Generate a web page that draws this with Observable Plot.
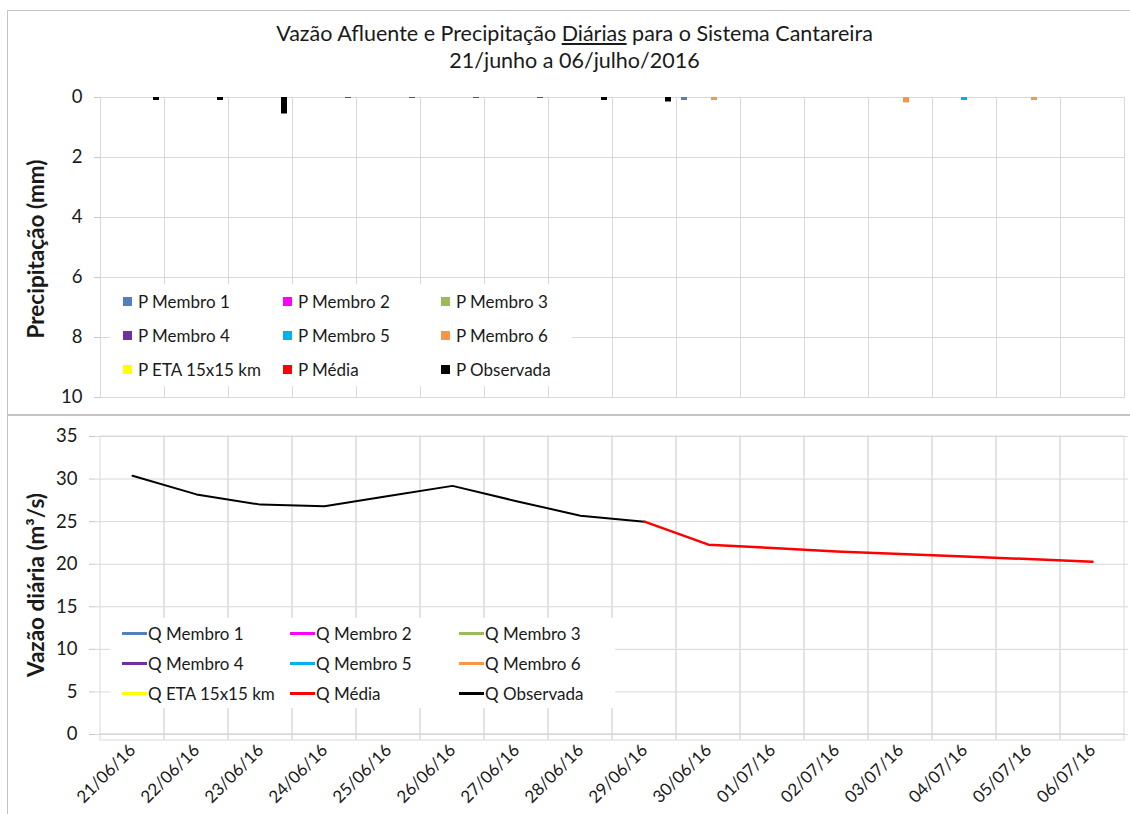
<!DOCTYPE html>
<html>
<head>
<meta charset="utf-8">
<script src="https://cdn.jsdelivr.net/npm/d3@7"></script>
<script src="https://cdn.jsdelivr.net/npm/@observablehq/plot@0.6"></script>
<style>
  body { margin: 0; background: #fff; }
  #chart { position: relative; width: 1130px; height: 814px; overflow: hidden; background: #fff;
           font-family: Lato, "Open Sans", sans-serif; color: #1a1a1a; }
  .abs { position: absolute; }
  .frameBorder { left: 7px; top: 10px; width: 1200px; height: 900px; border: 1px solid #c4c4c4; box-sizing: border-box; }
  .divider { left: 7px; top: 414px; width: 1130px; height: 2px; background: #c4c4c4; }
  .title { left: 0; top: 20px; width: 1149px; text-align: center; font-size: 21.5px; line-height: 27px; }
  .ytitle { font-weight: bold; font-size: 22.5px; white-space: nowrap; transform: translate(-50%, -50%) rotate(-90deg); }
  .legend { background: #fff; display: grid; font-size: 17px; align-items: center; }
  .item { display: flex; align-items: center; white-space: nowrap; }
  .sq { width: 9px; height: 9px; margin-right: 6px; flex: none; }
  .ln { width: 25px; height: 3px; margin-right: 1px; flex: none; }
  svg { position: absolute; left: 0; }
</style>
</head>
<body>
<div id="chart">
  <div class="abs frameBorder"></div>
  <div class="abs divider"></div>
</div>
<script>
// ---- Data ----
const dates = ["21/06/16","22/06/16","23/06/16","24/06/16","25/06/16","26/06/16","27/06/16","28/06/16",
               "29/06/16","30/06/16","01/07/16","02/07/16","03/07/16","04/07/16","05/07/16","06/07/16"];
const series = ["Membro 1","Membro 2","Membro 3","Membro 4","Membro 5","Membro 6","ETA 15x15 km","Média","Observada"];
const seriesColors = ["#4f81bd","#ff00ff","#9bbb59","#7030a0","#00b0f0","#f79646","#ffff00","#ff0000","#000000"];

// Observed daily precipitation (mm), 21/06 .. 29/06
const obsDates = dates.slice(0, 9);
const pObservada = [0.1, 0.1, 0.55, 0.02, 0.02, 0.02, 0.02, 0.1, 0.15];
// Forecast daily precipitation (mm), 30/06 .. 06/07
const fcDates = dates.slice(9);
const pMembro1 = [0.1, 0, 0, 0, 0, 0, 0];
const pMembro2 = [0, 0, 0, 0, 0, 0, 0];
const pMembro3 = [0, 0, 0, 0, 0, 0, 0];
const pMembro4 = [0, 0, 0, 0, 0, 0, 0];
const pMembro5 = [0, 0, 0, 0, 0.1, 0, 0];
const pMembro6 = [0.1, 0, 0, 0.18, 0, 0.1, 0];
const pEta     = [0, 0, 0, 0, 0, 0, 0];
const pMedia   = [0, 0, 0, 0, 0, 0, 0];

// Daily inflow (m3/s)
const qObservada = [30.4, 28.2, 27.0, 26.8, 28.0, 29.2, 27.4, 25.7, 25.0];   // 21/06 .. 29/06
const mediaDates = dates.slice(8);
const qMedia = [25.0, 22.3, 21.9, 21.5, 21.2, 20.9, 20.6, 20.3];             // 29/06 .. 06/07

const pTicks = [0, 2, 4, 6, 8, 10];
const qTicks = [0, 5, 10, 15, 20, 25, 30, 35];

// ---- Tables ----
const precipRows = [];
const fcSeries = [pMembro1, pMembro2, pMembro3, pMembro4, pMembro5, pMembro6, pEta, pMedia];
obsDates.forEach((d, i) => {
  series.forEach(s => precipRows.push({date: d, series: s, value: s === "Observada" ? pObservada[i] : 0}));
});
fcDates.forEach((d, i) => {
  series.forEach((s, k) => precipRows.push({date: d, series: s, value: k < 8 ? fcSeries[k][i] : 0}));
});
const obsRows = obsDates.map((d, i) => ({date: d, value: qObservada[i]}));
const mediaRows = mediaDates.map((d, i) => ({date: d, value: qMedia[i]}));

const grid = "#d9d9d9";
const font = "Lato, 'Open Sans', sans-serif";

// ---- Top panel: precipitation ----
const topPlot = Plot.plot({
  width: 1130, height: 414,
  marginTop: 97, marginBottom: 17, marginLeft: 95, marginRight: 2,
  style: {fontFamily: font, color: "#1a1a1a", background: "transparent"},
  fx: {domain: dates, padding: 0, axis: null, label: null},
  x: {domain: series, paddingInner: 0.08, paddingOuter: 0.7, axis: null},
  y: {domain: [0, 10], reverse: true, axis: null},
  color: {domain: series, range: seriesColors},
  marks: [
    Plot.gridY(pTicks, {stroke: grid, strokeOpacity: 1}),
    Plot.frame({stroke: grid}),
    Plot.axisY(pTicks, {tickSize: 6, tickPadding: 12, stroke: "#c8c8c8", fill: "#1a1a1a", fontSize: 18.5, label: null}),
    Plot.barY(precipRows, {fx: "date", x: "series", y: "value", fill: "series"})
  ]
});
topPlot.style.top = "0px";

// ---- Bottom panel: inflow ----
const botPlot = Plot.plot({
  width: 1130, height: 398,
  marginTop: 20, marginBottom: 80, marginLeft: 95, marginRight: 2,
  style: {fontFamily: font, color: "#1a1a1a", background: "transparent", overflow: "visible"},
  x: {type: "band", domain: dates, padding: 0, axis: null},
  y: {domain: [0, 35], axis: null},
  marks: [
    Plot.gridY(qTicks, {stroke: grid, strokeOpacity: 1}),
    Plot.barY(dates, {x: d => d, y1: 0, y2: 35, fill: "none", stroke: grid}),
    Plot.barY(dates, {x: d => d, y1: 0, y2: -0.7, fill: "none", stroke: grid}),
    Plot.axisY(qTicks, {tickSize: 6, tickPadding: 12, stroke: "#c8c8c8", fill: "#1a1a1a", fontSize: 18.5, label: null}),
    Plot.axisX({tickSize: 0, tickPadding: 13, tickRotate: -45, fontSize: 17, fill: "#1a1a1a", label: null}),
    Plot.line(obsRows, {x: "date", y: "value", stroke: "#000000", strokeWidth: 2}),
    Plot.line(mediaRows, {x: "date", y: "value", stroke: "#ff0000", strokeWidth: 2.5})
  ]
});
botPlot.style.top = "416px";

const chart = document.getElementById("chart");
chart.appendChild(topPlot);
chart.appendChild(botPlot);

// ---- Texts ----
function addDiv(cls, html, css) {
  const el = document.createElement("div");
  el.className = "abs " + cls;
  el.innerHTML = html;
  Object.assign(el.style, css || {});
  chart.appendChild(el);
  return el;
}
addDiv("title", "Vazão Afluente e Precipitação <u>Diárias</u> para o Sistema Cantareira<br>21/junho a 06/julho/2016");
addDiv("ytitle", "Precipitação (mm)", {left: "35px", top: "249px"});
addDiv("ytitle", "Vazão diária (m³/s)", {left: "35px", top: "585px"});

// ---- Legends ----
function legend(prefix, kind, css, cols, rowH) {
  const el = addDiv("legend", "", css);
  el.style.gridTemplateColumns = cols;
  el.style.gridAutoRows = rowH;
  series.forEach((s, i) => {
    const it = document.createElement("div");
    it.className = "item";
    const sw = document.createElement("span");
    sw.className = kind;
    sw.style.background = seriesColors[i];
    it.appendChild(sw);
    it.appendChild(document.createTextNode(prefix + " " + s));
    el.appendChild(it);
  });
}
legend("P", "sq", {left: "110px", top: "284px", width: "462px", height: "102px", paddingLeft: "13px", boxSizing: "border-box"},
       "160px 158px 140px", "34px");
legend("Q", "ln", {left: "110px", top: "618px", width: "505px", height: "90px", paddingLeft: "12px", boxSizing: "border-box"},
       "168px 169px 160px", "30px");
</script>
</body>
</html>
